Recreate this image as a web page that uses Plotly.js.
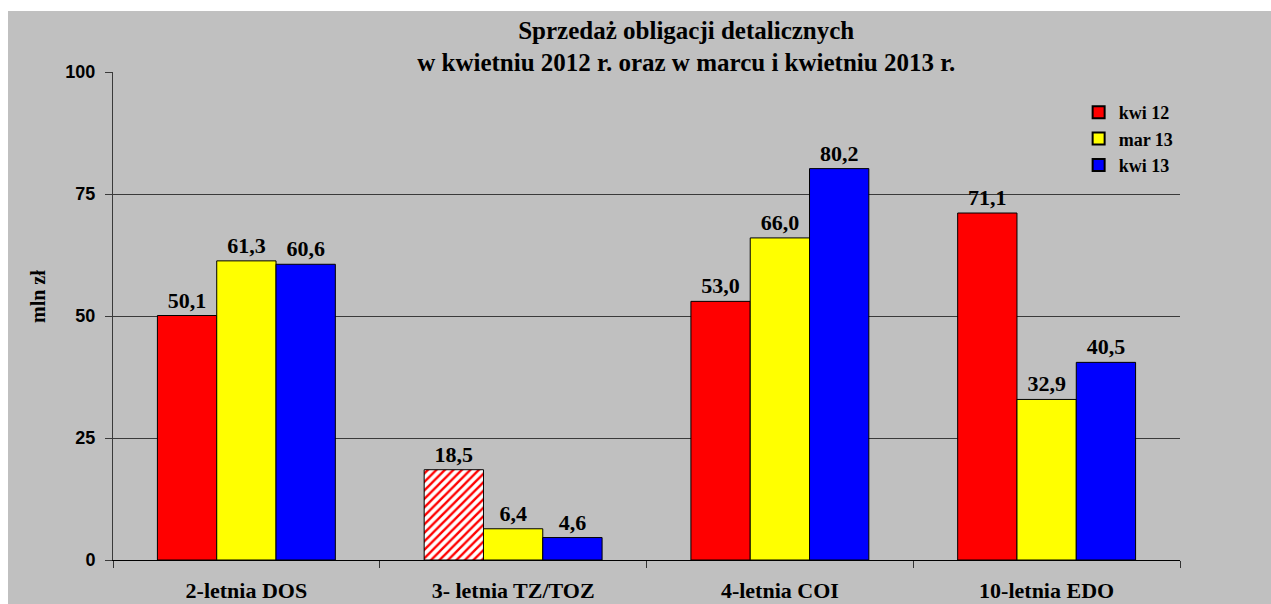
<!DOCTYPE html>
<html>
<head>
<meta charset="utf-8">
<script src="https://cdn.plot.ly/plotly-3.0.1.min.js"></script>
<style>
  html, body { margin: 0; padding: 0; background: #ffffff; width: 1271px; height: 604px; overflow: hidden; }
  #chart { position: absolute; left: 8px; top: 11px; width: 1263px; height: 593px; }
</style>
</head>
<body>
<div id="chart"></div>
<script>
const categories = ["2-letnia DOS", "3- letnia TZ/TOZ", "4-letnia COI", "10-letnia EDO"];
const seriesNames = ["kwi 12", "mar 13", "kwi 13"];
const kwi12 = [50.1, 18.5, 53.0, 71.1];
const mar13 = [61.3, 6.4, 66.0, 32.9];
const kwi13 = [60.6, 4.6, 80.2, 40.5];
const kwi12Patterns = ["", "/", "", ""];
const yTicks = [0, 25, 50, 75, 100];
const yAxisTitle = "mln zł";

const serif = "'Liberation Serif', 'Times New Roman', serif";
const sans = "'Liberation Sans', Arial, sans-serif";

function barTrace(name, values, color, extra) {
  const t = {
    type: "bar",
    name: "<b>" + name + "</b>",
    x: categories,
    y: values,
    marker: { color: color, line: { color: "#000000", width: 1 } },
    text: values.map(v => v.toFixed(1).replace(".", ",")),
    textposition: "outside",
    constraintext: "none",
    cliponaxis: false,
    textfont: { family: serif, size: 22, color: "#000000", weight: "bold" },
    hoverinfo: "skip"
  };
  if (extra) Object.assign(t.marker, extra);
  return t;
}

const data = [
  barTrace(seriesNames[0], kwi12, "#FF0000", {
    pattern: { shape: kwi12Patterns, fgcolor: "#FF0000", bgcolor: "#FFFFFF", size: 6, solidity: 0.4, fillmode: "replace" }
  }),
  barTrace(seriesNames[1], mar13, "#FFFF00"),
  barTrace(seriesNames[2], kwi13, "#0000FF")
];

const layout = {
  width: 1263,
  height: 593,
  paper_bgcolor: "#C0C0C0",
  plot_bgcolor: "#C0C0C0",
  margin: { l: 105, r: 91, t: 61, b: 44 },
  separators: ", ",
  barmode: "group",
  bargap: 0.333,
  bargroupgap: 0,
  showlegend: true,
  title: {
    text: "<b>Sprzedaż obligacji detalicznych<br>w kwietniu 2012 r. oraz w marcu i kwietniu 2013 r.</b>",
    font: { family: serif, size: 25, color: "#000000" },
    x: 0.537,
    xanchor: "center",
    y: 0.953,
    yanchor: "top"
  },
  annotations: [{
    text: "<b>" + yAxisTitle + "</b>",
    xref: "paper", yref: "paper",
    x: -0.0703, y: 0.541,
    xanchor: "center", yanchor: "middle",
    textangle: -90,
    showarrow: false,
    font: { family: serif, size: 20, color: "#000000" }
  }],
  xaxis: {
    type: "category",
    showgrid: false,
    showline: true,
    linecolor: "#000000",
    linewidth: 1,
    ticks: "outside",
    tickson: "boundaries",
    ticklen: 7,
    tickcolor: "#333333",
    ticklabelstandoff: 11,
    tickfont: { family: serif, size: 22, color: "#000000", weight: "bold" },
    fixedrange: true
  },
  yaxis: {
    range: [0, 100],
    tickvals: yTicks,
    ticktext: yTicks.map(String),
    showgrid: true,
    gridcolor: "#3a3a3a",
    gridwidth: 1,
    zeroline: false,
    showline: true,
    linecolor: "#3a3a3a",
    linewidth: 1,
    ticks: "outside",
    ticklen: 7,
    tickcolor: "#3a3a3a",
    ticklabelstandoff: 6,
    tickfont: { family: sans, size: 18, color: "#000000", weight: "bold" },
    automargin: false,
    fixedrange: true
  },
  legend: {
    x: 0.905,
    xanchor: "left",
    y: 0.955,
    yanchor: "top",
    bgcolor: "rgba(0,0,0,0)",
    borderwidth: 0,
    font: { family: serif, size: 18, color: "#000000" },
    itemsizing: "constant",
    tracegroupgap: 0
  }
};

Plotly.newPlot("chart", data, layout, { displayModeBar: false, staticPlot: true });
</script>
</body>
</html>
